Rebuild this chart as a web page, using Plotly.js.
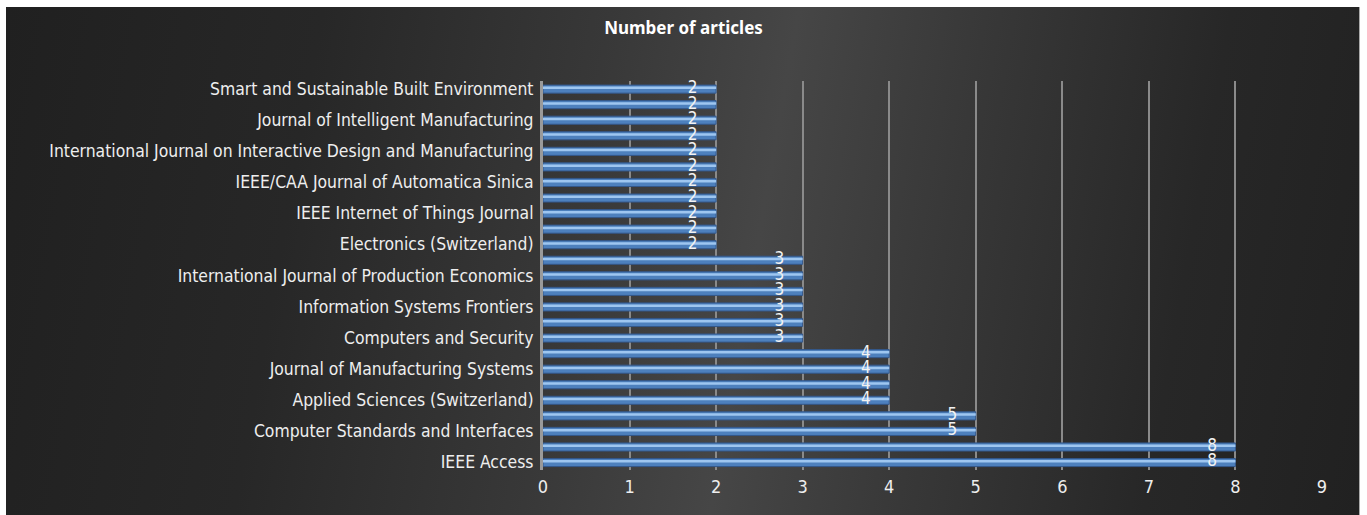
<!DOCTYPE html>
<html>
<head>
<meta charset="utf-8">
<script src="https://cdn.plot.ly/plotly-3.0.1.min.js"></script>
<style>
  html, body { margin: 0; padding: 0; background: #ffffff; }
  #wrap { position: relative; width: 1367px; height: 515px; }
  #bg {
    position: absolute; left: 6px; top: 7px; width: 1353px; height: 508px;
    background: linear-gradient(100deg, #202020 0%, #272727 22%, #383838 42%, #464646 55%, #383838 68%, #272727 85%, #212121 100%);
    border-right: 1px solid #aaa;
  }
  #chart { position: absolute; left: 0; top: 0; width: 1367px; height: 515px; }
</style>
</head>
<body>
<div id="wrap">
  <div id="bg"></div>
  <div id="chart"></div>
</div>
<script>
// Values from bottom (IEEE Access) to top (Smart and Sustainable Built Environment)
const values = [8, 8, 5, 5, 4, 4, 4, 4, 3, 3, 3, 3, 3, 3, 2, 2, 2, 2, 2, 2, 2, 2, 2, 2, 2];
// Visible tick labels (every other category, from the bottom)
const labelIndex = [0, 2, 4, 6, 8, 10, 12, 14, 16, 18, 20, 22, 24];
const tickLabels = [
  "IEEE Access",
  "Computer Standards and Interfaces",
  "Applied Sciences (Switzerland)",
  "Journal of Manufacturing Systems",
  "Computers and Security",
  "Information Systems Frontiers",
  "International Journal of Production Economics",
  "Electronics (Switzerland)",
  "IEEE Internet of Things Journal",
  "IEEE/CAA Journal of Automatica Sinica",
  "International Journal on Interactive Design and Manufacturing",
  "Journal of Intelligent Manufacturing",
  "Smart and Sustainable Built Environment"
];
const xTicks = [0, 1, 2, 3, 4, 5, 6, 7, 8, 9];
const chartTitle = "Number of articles";

const idx = values.map((v, i) => i);
const FONT = "'DejaVu Sans Condensed', 'Noto Sans', sans-serif";

const base = {
  type: 'bar', orientation: 'h', x: values, y: idx,
  width: 0.52, offset: -0.28,
  marker: { color: '#4d80bd', line: { color: '#33578a', width: 1 } },
  hoverinfo: 'x', showlegend: false
};
const shine = {
  type: 'bar', orientation: 'h', x: values, y: idx,
  width: 0.16, offset: -0.02,
  marker: { color: '#9ec6f0', line: { width: 0 } },
  hoverinfo: 'skip', showlegend: false
};
const labels = {
  type: 'scatter', mode: 'text',
  x: values.map(v => v - 0.27), y: idx,
  text: values.map(String),
  textposition: 'middle center',
  textfont: { family: FONT, size: 17, color: '#f2f2f2' },
  cliponaxis: false, hoverinfo: 'skip', showlegend: false
};

const layout = {
  width: 1367, height: 515,
  paper_bgcolor: 'rgba(0,0,0,0)',
  plot_bgcolor: 'rgba(0,0,0,0)',
  margin: { l: 543, r: 45, t: 81, b: 45 },
  barmode: 'overlay',
  title: {
    text: '<b>' + chartTitle + '</b>',
    font: { family: "'Noto Sans', sans-serif", size: 17, color: '#ffffff' },
    x: 0.5, xref: 'container', y: 1 - 28 / 515, yref: 'container', yanchor: 'middle'
  },
  xaxis: {
    range: [0, 9], tickvals: xTicks, ticktext: xTicks.map(String),
    showgrid: true, gridcolor: '#8a8a8a', gridwidth: 2,
    zeroline: false, showline: false,
    ticks: 'outside', ticklen: 0, tickcolor: 'rgba(0,0,0,0)',
    tickfont: { family: FONT, size: 18, color: '#eeeeee' },
    fixedrange: true
  },
  yaxis: {
    range: [-0.5, 24.5], tickvals: labelIndex, ticktext: tickLabels,
    showgrid: false, zeroline: false, showline: true, linecolor: '#9a9a9a', linewidth: 3,
    ticks: '', ticklabelstandoff: 3,
    tickfont: { family: FONT, size: 17.4, color: '#eeeeee' },
    fixedrange: true
  },
  font: { family: FONT, color: '#eeeeee' }
};

Plotly.newPlot('chart', [base, shine, labels], layout, { displayModeBar: false, staticPlot: true });
</script>
</body>
</html>
